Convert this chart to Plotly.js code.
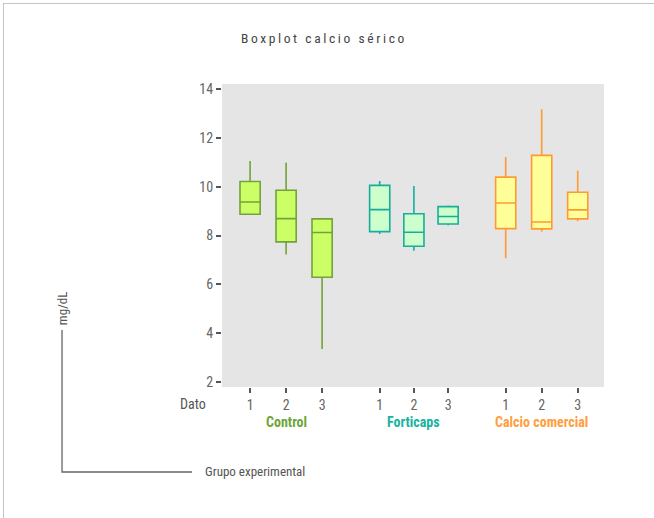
<!DOCTYPE html>
<html>
<head>
<meta charset="utf-8">
<script src="https://cdn.plot.ly/plotly-3.0.1.min.js"></script>
<style>
  html, body { margin: 0; padding: 0; background: #ffffff; }
  #frame { position: absolute; left: 3px; top: 3px; width: 700px; height: 520px;
           border-left: 1.5px solid #c4c4c4; border-top: 1.5px solid #c4c4c4; pointer-events: none; }
  #chart { position: absolute; left: 0; top: 0; width: 654px; height: 518px; }
  .gtitle { letter-spacing: 2.6px; }
</style>
</head>
<body>
<div id="chart"></div>
<div id="frame"></div>
<script>
// ---- data ----
const groups = ["Control", "Forticaps", "Calcio comercial"];
const datoLabels = ["1", "2", "3"];
// x positions of each box (groups separated by a gap)
const posControl   = [1, 2, 3];
const posForticaps = [4.6, 5.55, 6.5];
const posCalcio    = [8.1, 9.1, 10.1];

const controlLower  = [8.87, 7.22, 3.36];
const controlQ1     = [8.87, 7.74, 6.29];
const controlMedian = [9.37, 8.69, 8.12];
const controlQ3     = [10.21, 9.85, 8.68];
const controlUpper  = [11.05, 10.98, 8.68];

const fortiLower  = [8.06, 7.38, 8.42];
const fortiQ1     = [8.16, 7.56, 8.47];
const fortiMedian = [9.06, 8.13, 8.78];
const fortiQ3     = [10.05, 8.89, 9.18];
const fortiUpper  = [10.23, 10.03, 9.23];

const calcioLower  = [7.07, 8.15, 8.58];
const calcioQ1     = [8.28, 8.27, 8.68];
const calcioMedian = [9.33, 8.55, 9.05];
const calcioQ3     = [10.39, 11.28, 9.77];
const calcioUpper  = [11.21, 13.17, 10.65];

const yTicks = [2, 4, 6, 8, 10, 12, 14];

// ---- styling ----
const narrow = '"Liberation Sans Narrow", "Roboto Condensed", "DejaVu Sans Condensed", "Arial Narrow", "Liberation Sans", sans-serif';
const groupColors = {
  line: ["#72a23a", "#17ad9c", "#ff9a33"],
  fill: ["#ccff66", "#ccffcc", "#ffff99"],
  label: ["#6ea53a", "#19b3a2", "#ff9e40"]
};

function boxTrace(x, lo, q1, med, q3, up, i) {
  return {
    type: "box",
    x: x, lowerfence: lo, q1: q1, median: med, q3: q3, upperfence: up,
    name: groups[i],
    width: 0.56,
    whiskerwidth: 0,
    fillcolor: groupColors.fill[i],
    line: { color: groupColors.line[i], width: 1.6 },
    hoverinfo: "skip",
    showlegend: false
  };
}

const traces = [
  boxTrace(posControl, controlLower, controlQ1, controlMedian, controlQ3, controlUpper, 0),
  boxTrace(posForticaps, fortiLower, fortiQ1, fortiMedian, fortiQ3, fortiUpper, 1),
  boxTrace(posCalcio, calcioLower, calcioQ1, calcioMedian, calcioQ3, calcioUpper, 2)
];

const allPos = posControl.concat(posForticaps, posCalcio);
const allText = datoLabels.concat(datoLabels, datoLabels);
const centers = [posControl, posForticaps, posCalcio].map(a => (a[0] + a[a.length - 1]) / 2);

const annotations = [
  { text: "mg/dL", xref: "paper", yref: "paper", x: -0.419, y: 0.26, textangle: -90,
    showarrow: false, xanchor: "center", yanchor: "middle",
    font: { family: narrow, size: 13, color: "#555" } },
  { text: "Grupo experimental", xref: "paper", yref: "paper", x: -0.050, y: -0.2805,
    showarrow: false, xanchor: "left", yanchor: "middle",
    font: { family: narrow, size: 13, color: "#555" } },
  { text: "Dato", xref: "paper", yref: "paper", x: -0.036, y: -0.056,
    showarrow: false, xanchor: "right", yanchor: "middle",
    font: { family: narrow, size: 14, color: "#555" } }
];
groups.forEach((g, i) => {
  annotations.push({ text: "<b>" + g + "</b>", xref: "x", yref: "paper", x: centers[i], y: -0.116,
    showarrow: false, xanchor: "center", yanchor: "middle",
    font: { family: narrow, size: 14, color: groupColors.label[i] } });
});

const layout = {
  width: 654, height: 518,
  margin: { l: 222, r: 50, t: 84, b: 131 },
  paper_bgcolor: "rgba(0,0,0,0)",
  plot_bgcolor: "#e5e5e5",
  title: { text: "Boxplot calcio sérico", x: 0.3685, xanchor: "left", y: 0.927, yanchor: "middle",
           font: { family: narrow, size: 13.5, color: "#444" } },
  xaxis: {
    range: [0.22, 10.83], tickmode: "array", tickvals: allPos, ticktext: allText,
    showgrid: false, zeroline: false, showline: false,
    ticks: "outside", ticklen: 5, tickwidth: 2, tickcolor: "#555",
    tickfont: { family: narrow, size: 14, color: "#666" }
  },
  yaxis: {
    range: [1.8, 14.2], tickmode: "array", tickvals: yTicks,
    showgrid: false, zeroline: false, showline: false,
    ticks: "outside", ticklen: 5, tickwidth: 2, tickcolor: "#555",
    tickfont: { family: narrow, size: 14, color: "#666" }
  },
  shapes: [
    { type: "path", xref: "paper", yref: "paper",
      path: "M -0.4188 0.1881 L -0.4188 -0.2805 L -0.0785 -0.2805",
      line: { color: "#666", width: 1.3 } }
  ],
  annotations: annotations
};

Plotly.newPlot("chart", traces, layout, { displayModeBar: false, staticPlot: true });
</script>
</body>
</html>
